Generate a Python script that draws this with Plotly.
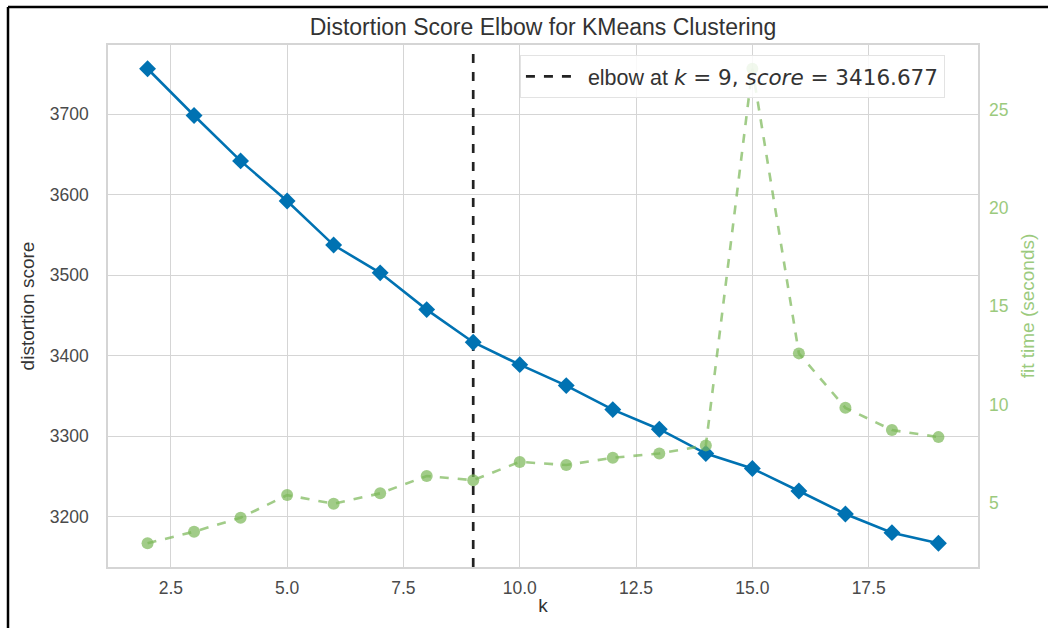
import plotly.graph_objects as go

# ---- data ----
k_values = [2, 3, 4, 5, 6, 7, 8, 9, 10, 11, 12, 13, 14, 15, 16, 17, 18, 19]
distortion = [3756.5, 3698.4, 3642.0, 3592.2, 3537.4, 3502.9, 3457.2, 3416.677,
              3388.8, 3362.8, 3333.0, 3308.6, 3278.4, 3259.8, 3231.9, 3203.3,
              3180.1, 3166.9]
fit_time = [2.94, 3.53, 4.24, 5.39, 4.95, 5.48, 6.36, 6.15, 7.08, 6.92, 7.29,
            7.51, 7.92, 27.08, 12.6, 9.83, 8.70, 8.34]
elbow_k = 9
elbow_score = 3416.677
x_ticks = [2.5, 5.0, 7.5, 10.0, 12.5, 15.0, 17.5]
y_ticks = [3200, 3300, 3400, 3500, 3600, 3700]
y2_ticks = [5, 10, 15, 20, 25]

def padded(vals, m=0.05):
    lo, hi = min(vals), max(vals)
    d = (hi - lo) * m
    return [lo - d, hi + d]

xr = padded(k_values)
yr = padded(distortion)
y2r = padded(fit_time)

BLUE = "#0072B2"
GREEN = "rgba(125,185,90,0.72)"
GREEN_TXT = "rgb(155,202,125)"
FONT = "Liberation Sans, Arial, sans-serif"

fig = go.Figure()
fig.add_trace(go.Scatter(
    x=[elbow_k, elbow_k], y=yr, mode="lines",
    line=dict(color="#222222", width=2.7, dash="dash"),
    name=("&nbsp;&nbsp;elbow at <span style='font-family:DejaVu Sans'><i>k</i> = "
          f"{elbow_k}, <i>score</i> = {elbow_score:.3f}</span>"),
    showlegend=True, hoverinfo="skip"))
fig.add_trace(go.Scatter(
    x=k_values, y=distortion, mode="lines+markers",
    line=dict(color=BLUE, width=2.6),
    marker=dict(symbol="diamond", size=13, color=BLUE),
    showlegend=False, name="distortion"))
fig.add_trace(go.Scatter(
    x=k_values, y=fit_time, mode="lines+markers", yaxis="y2",
    line=dict(color=GREEN, width=2.6, dash="dash"),
    marker=dict(symbol="circle", size=12, color=GREEN),
    showlegend=False, name="fit time"))

grid = "#d5d5d5"
fig.update_layout(
    width=1048, height=628,
    margin=dict(l=108, r=70, t=45, b=61, autoexpand=False),
    paper_bgcolor="white", plot_bgcolor="white",
    font=dict(family=FONT, color="#4a4a4a", size=17.5),
    title=dict(text="Distortion Score Elbow for KMeans Clustering",
               x=0.5, xref="paper", xanchor="center",
               y=1 - 27 / 628, yanchor="middle", automargin=False,
               font=dict(size=23, color="#333333")),
    xaxis=dict(range=xr, tickvals=x_ticks, ticktext=[f"{v:.1f}" for v in x_ticks],
               showgrid=True, gridcolor=grid, gridwidth=1.3, zeroline=False,
               showline=True, linecolor=grid, linewidth=1.5, mirror=True,
               ticks="", ticklabelstandoff=4, automargin=False,
               title=dict(text="k", standoff=2, font=dict(size=19, color="#333333"))),
    yaxis=dict(range=yr, tickvals=y_ticks, showgrid=True, gridcolor=grid, gridwidth=1.3,
               zeroline=False, showline=True, linecolor=grid, linewidth=1.5, mirror=True,
               ticks="", ticklabelstandoff=14, automargin=False,
               title=dict(text="distortion score", standoff=10,
                          font=dict(size=19, color="#333333"))),
    yaxis2=dict(range=y2r, tickvals=y2_ticks, overlaying="y", side="right",
                showgrid=False, zeroline=False, ticks="", ticklabelstandoff=10,
                automargin=False, tickfont=dict(color=GREEN_TXT),
                title=dict(text="fit time (seconds)", standoff=12,
                           font=dict(size=19, color=GREEN_TXT))),
    legend=dict(x=0.962, y=0.981, xanchor="right", yanchor="top",
                bgcolor="rgba(255,255,255,0.85)", bordercolor="#e3e3e3", borderwidth=1,
                font=dict(size=21.5, color="#333333", family=FONT),
                itemwidth=45),
    shapes=[
        dict(type="line", xref="paper", yref="paper",
             x0=(8 - 108) / 870, x1=(1060 - 108) / 870,
             y0=1 + (45 - 7) / 522, y1=1 + (45 - 7) / 522,
             line=dict(color="black", width=2.5)),
        dict(type="line", xref="paper", yref="paper",
             x0=(8 - 108) / 870, x1=(8 - 108) / 870,
             y0=1 + (45 - 7) / 522, y1=-(640 - 567) / 522,
             line=dict(color="black", width=2.5)),
    ],
)

fig.write_html("out.html")
